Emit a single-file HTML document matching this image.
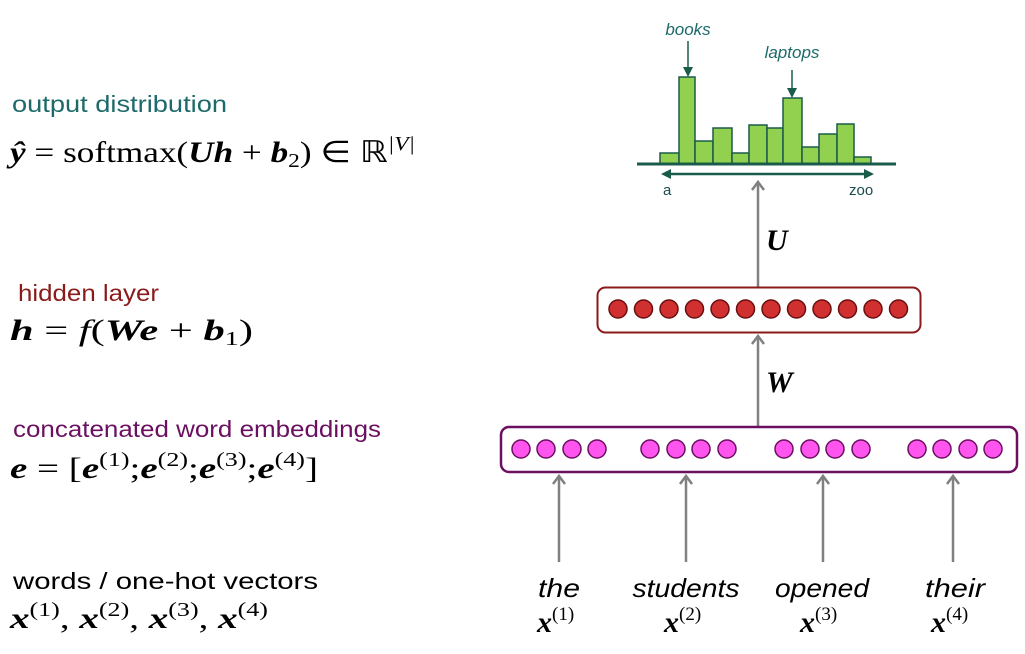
<!DOCTYPE html>
<html><head><meta charset="utf-8"><style>
body{margin:0;background:#fff;width:1025px;height:649px;overflow:hidden}
svg text{font-family:"Liberation Sans",sans-serif}
.m{font-family:"Liberation Serif",serif;font-size:30px}
.b{font-weight:bold;font-style:italic}
</style></head><body>
<svg width="1025" height="649" viewBox="0 0 1025 649" xmlns="http://www.w3.org/2000/svg">
<text x="12" y="112" font-size="23" fill="#1e6a6a" textLength="215" lengthAdjust="spacingAndGlyphs">output distribution</text>
<text x="10" y="162" class="m" textLength="405" lengthAdjust="spacingAndGlyphs"><tspan class="b">ŷ</tspan> = softmax(<tspan class="b">U</tspan><tspan class="b">h</tspan> + <tspan class="b">b</tspan><tspan font-size="20" dy="5">2</tspan><tspan dy="-5">) ∈ ℝ</tspan><tspan font-size="20" dy="-12" font-style="italic">|V|</tspan></text>
<text x="18" y="301" font-size="23" fill="#8b1a1a" textLength="141" lengthAdjust="spacingAndGlyphs">hidden layer</text>
<text x="10" y="340" class="m" textLength="243" lengthAdjust="spacingAndGlyphs"><tspan class="b">h</tspan> = <tspan font-style="italic">f</tspan>(<tspan class="b">W</tspan><tspan class="b">e</tspan> + <tspan class="b">b</tspan><tspan font-size="20" dy="5">1</tspan><tspan dy="-5">)</tspan></text>
<text x="13" y="437" font-size="23" fill="#6b1060" textLength="368" lengthAdjust="spacingAndGlyphs">concatenated word embeddings</text>
<text x="10" y="478" class="m" textLength="308" lengthAdjust="spacingAndGlyphs"><tspan class="b">e</tspan> = [<tspan class="b">e</tspan><tspan font-size="20" dy="-12">(1)</tspan><tspan dy="12">;</tspan><tspan class="b">e</tspan><tspan font-size="20" dy="-12">(2)</tspan><tspan dy="12">;</tspan><tspan class="b">e</tspan><tspan font-size="20" dy="-12">(3)</tspan><tspan dy="12">;</tspan><tspan class="b">e</tspan><tspan font-size="20" dy="-12">(4)</tspan><tspan dy="12">]</tspan></text>
<text x="13" y="589" font-size="23" fill="#000" textLength="305" lengthAdjust="spacingAndGlyphs">words / one-hot vectors</text>
<text x="10" y="628" class="m" textLength="258" lengthAdjust="spacingAndGlyphs"><tspan class="b">x</tspan><tspan font-size="20" dy="-12">(1)</tspan><tspan dy="12">, </tspan><tspan class="b">x</tspan><tspan font-size="20" dy="-12">(2)</tspan><tspan dy="12">, </tspan><tspan class="b">x</tspan><tspan font-size="20" dy="-12">(3)</tspan><tspan dy="12">, </tspan><tspan class="b">x</tspan><tspan font-size="20" dy="-12">(4)</tspan></text>

<g fill="#92d050" stroke="#1a5c4a" stroke-width="1.5">
<rect x="660" y="153" width="19" height="11"/>
<rect x="679" y="77" width="16" height="87"/>
<rect x="695" y="141" width="18" height="23"/>
<rect x="713" y="128" width="19" height="36"/>
<rect x="732" y="153" width="17" height="11"/>
<rect x="749" y="125" width="18" height="39"/>
<rect x="767" y="128" width="16" height="36"/>
<rect x="783" y="98" width="19" height="66"/>
<rect x="802" y="147" width="17" height="17"/>
<rect x="819" y="134" width="18" height="30"/>
<rect x="837" y="124" width="17" height="40"/>
<rect x="854" y="157" width="17" height="7"/>
</g>
<line x1="637" y1="164" x2="896" y2="164" stroke="#1a5c4a" stroke-width="3"/>
<line x1="667" y1="174" x2="868" y2="174" stroke="#1a5c4a" stroke-width="2.5"/>
<path d="M661,174 L671,169 L671,179Z M874,174 L864,169 L864,179Z" fill="#1a5c4a"/>
<text x="663" y="195" font-size="15" fill="#1a4c4c">a</text>
<text x="849" y="195" font-size="15" fill="#1a4c4c">zoo</text>
<text x="688" y="35" font-size="17" font-style="italic" fill="#1e6a6a" text-anchor="middle">books</text>
<line x1="688" y1="41" x2="688" y2="70" stroke="#1a5c4a" stroke-width="1.5"/>
<path d="M683,67 L693,67 L688,77Z" fill="#1a5c4a"/>
<text x="792" y="58" font-size="17" font-style="italic" fill="#1e6a6a" text-anchor="middle">laptops</text>
<line x1="792" y1="70" x2="792" y2="91" stroke="#1a5c4a" stroke-width="1.5"/>
<path d="M787,88 L797,88 L792,98Z" fill="#1a5c4a"/>

<g stroke="#808080" stroke-width="2.5" fill="none">
<line x1="758" y1="287" x2="758" y2="182"/><path d="M752,190 L758,182 L764,190"/>
<line x1="758" y1="427" x2="758" y2="336"/><path d="M752,344 L758,336 L764,344"/>
<line x1="559" y1="562" x2="559" y2="476"/><path d="M553,484 L559,476 L565,484"/>
<line x1="686" y1="562" x2="686" y2="476"/><path d="M680,484 L686,476 L692,484"/>
<line x1="823" y1="562" x2="823" y2="476"/><path d="M817,484 L823,476 L829,484"/>
<line x1="953" y1="562" x2="953" y2="476"/><path d="M947,484 L953,476 L959,484"/>
</g>
<text x="766" y="250" class="m b" font-size="28">U</text>
<rect x="597.5" y="287.5" width="323" height="45" rx="8" fill="#fff" stroke="#8b1a1a" stroke-width="2"/>
<g fill="#d03030" stroke="#6b0f0f" stroke-width="1.5">
<circle cx="618" cy="309" r="9"/><circle cx="643.5" cy="309" r="9"/><circle cx="669" cy="309" r="9"/><circle cx="694.5" cy="309" r="9"/><circle cx="720" cy="309" r="9"/><circle cx="745.5" cy="309" r="9"/><circle cx="771" cy="309" r="9"/><circle cx="796.5" cy="309" r="9"/><circle cx="822" cy="309" r="9"/><circle cx="847.5" cy="309" r="9"/><circle cx="873" cy="309" r="9"/><circle cx="898.5" cy="309" r="9"/>
</g>
<text x="766" y="392" class="m b" font-size="28">W</text>
<rect x="501" y="427" width="516" height="45" rx="8" fill="#fff" stroke="#6b1060" stroke-width="2.5"/>
<g fill="#ff55ee" stroke="#6b1060" stroke-width="1.5">
<circle cx="521" cy="449" r="9"/><circle cx="546" cy="449" r="9"/><circle cx="572" cy="449" r="9"/><circle cx="597" cy="449" r="9"/>
<circle cx="650" cy="449" r="9"/><circle cx="676" cy="449" r="9"/><circle cx="701" cy="449" r="9"/><circle cx="727" cy="449" r="9"/>
<circle cx="784" cy="449" r="9"/><circle cx="810" cy="449" r="9"/><circle cx="835" cy="449" r="9"/><circle cx="861" cy="449" r="9"/>
<circle cx="917" cy="449" r="9"/><circle cx="942" cy="449" r="9"/><circle cx="968" cy="449" r="9"/><circle cx="993" cy="449" r="9"/>
</g>
<g font-size="26" font-style="italic" text-anchor="middle" fill="#000">
<text x="559" y="597" textLength="42" lengthAdjust="spacingAndGlyphs">the</text>
<text x="686" y="597" textLength="107" lengthAdjust="spacingAndGlyphs">students</text>
<text x="822" y="597" textLength="94" lengthAdjust="spacingAndGlyphs">opened</text>
<text x="955" y="597" textLength="60" lengthAdjust="spacingAndGlyphs">their</text>
</g>
<text x="537" y="632" class="m"><tspan class="b">x</tspan><tspan font-size="19" dy="-12">(1)</tspan></text>
<text x="664" y="632" class="m"><tspan class="b">x</tspan><tspan font-size="19" dy="-12">(2)</tspan></text>
<text x="800" y="632" class="m"><tspan class="b">x</tspan><tspan font-size="19" dy="-12">(3)</tspan></text>
<text x="931" y="632" class="m"><tspan class="b">x</tspan><tspan font-size="19" dy="-12">(4)</tspan></text>
</svg>
</body></html>
